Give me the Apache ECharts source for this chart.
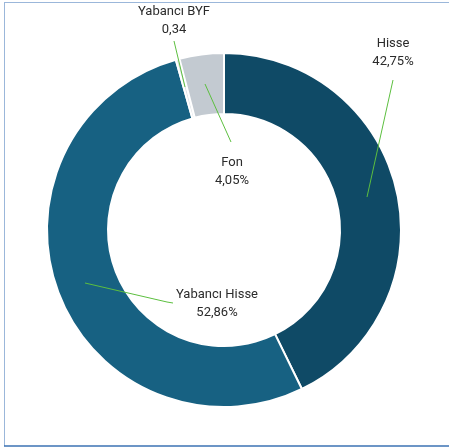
<!DOCTYPE html>
<html>
<head>
<meta charset="utf-8">
<script src="https://cdn.jsdelivr.net/npm/echarts@6/dist/echarts.min.js"></script>
<style>
html,body{margin:0;padding:0;background:#fff;}
#c{width:449px;height:448px;}
</style>
</head>
<body>
<div id="c"></div>
<script>
// ---- data ----
var categories = ['Hisse', 'Yabancı Hisse', 'Yabancı BYF', 'Fon'];
var values = [42.75, 52.86, 0.34, 4.05];
var showPercent = [true, true, false, true];

// ---- styles ----
var colors = ['#0f4a66', '#176182', '#dde2e6', '#c3cad1'];
var CX = 224, CY = 230, R = 177, RIN = 116;
// label geometry, offsets from pie centre in px at R=177 (style, not data)
var labelGeom = [
  {pts: [[143, -33], [169, -150]], text: [169, -177]},
  {pts: [[-139, 53], [-57, 72], [-51, 73]], text: [-7, 74]},
  {pts: [[-39, -143], [-50, -189]], text: [-50, -209]},
  {pts: [[-19, -146], [7, -88]], text: [8, -58]}
];

var chart = echarts.init(document.getElementById('c'), null, {renderer: 'canvas'});
var s = R / 177;
function P(p) { return [CX + p[0] * s, CY + p[1] * s]; }

var graphics = [
  {type: 'line', shape: {x1: 4, y1: 2.5, x2: 449, y2: 2.5}, style: {stroke: '#9bb7da', lineWidth: 1}, silent: true},
  {type: 'line', shape: {x1: 4.5, y1: 2, x2: 4.5, y2: 446}, style: {stroke: '#9bb7da', lineWidth: 1}, silent: true},
  {type: 'line', shape: {x1: 4, y1: 446, x2: 449, y2: 446}, style: {stroke: '#3b72b3', lineWidth: 1.5}, silent: true}
];
labelGeom.forEach(function (g) {
  graphics.push({
    type: 'polyline', z: 100, silent: true,
    shape: {points: g.pts.map(P)},
    style: {stroke: '#5cbf3f', lineWidth: 1, fill: null}
  });
});

chart.setOption({
  animation: false,
  graphic: graphics,
  series: [{
    type: 'pie',
    center: [CX, CY],
    radius: [RIN, R],
    startAngle: 90,
    clockwise: true,
    avoidLabelOverlap: false,
    itemStyle: {borderColor: '#ffffff', borderWidth: 2},
    label: {
      show: true,
      position: 'outside',
      fontFamily: 'Roboto',
      fontSize: 13,
      lineHeight: 18,
      color: '#2b2b2b',
      align: 'center',
      formatter: function (p) {
        var v = p.value.toFixed(2).replace('.', ',');
        return p.name + '\n' + v + (showPercent[p.dataIndex] ? '%' : '');
      }
    },
    labelLine: {show: false},
    labelLayout: function (params) {
      var g = labelGeom[params.dataIndex];
      var t = P(g.text);
      return {x: t[0], y: t[1], align: 'center', verticalAlign: 'middle'};
    },
    emphasis: {disabled: true},
    data: categories.map(function (n, i) {
      return {name: n, value: values[i], itemStyle: {color: colors[i]}};
    })
  }]
});
</script>
</body>
</html>
